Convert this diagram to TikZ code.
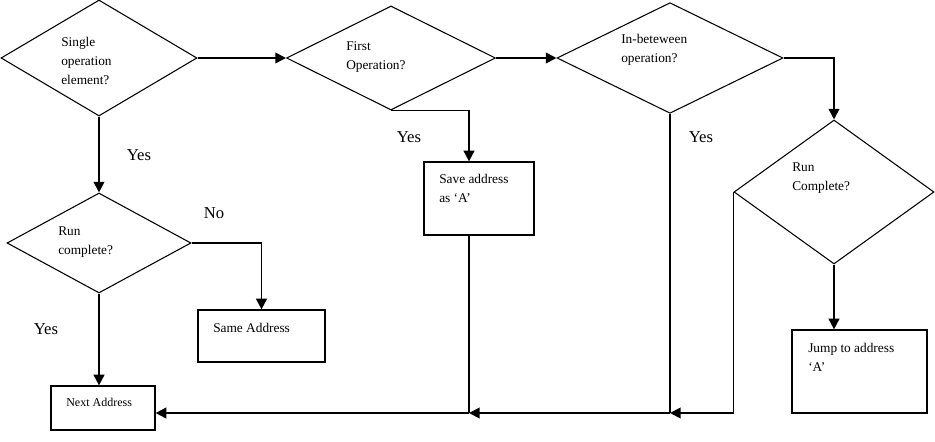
\documentclass[tikz,border=0pt]{standalone}
\usepackage{fontspec}
\setmainfont{Liberation Serif}
\usetikzlibrary{shapes.geometric,arrows.meta,positioning}
\tikzset{
  decision/.style={draw,diamond,inner sep=0pt,line width=0.8pt},
  process/.style={draw,rectangle,inner sep=0pt,line width=0.9pt},
  txt/.style={anchor=north west,inner sep=0pt,align=left,font=\fontsize{10}{14.25}\selectfont},
  answer/.style={inner sep=0pt,font=\fontsize{12.5}{14}\selectfont},
  arr/.style={-{Triangle[length=8pt,width=8pt]},line width=1.4pt},
  line/.style={line width=0.9pt}
}
\begin{document}
\begin{tikzpicture}[x=0.75pt,y=-0.75pt]
  \useasboundingbox (0,0) rectangle (935,442);

  % Decisions
  \node (d1) [decision,minimum width=147pt,minimum height=87pt] at (99,58) {};
  \node (d2) [decision,minimum width=156.75pt,minimum height=78pt] at (391,58) {};
  \node (d3) [decision,minimum width=169.5pt,minimum height=83pt] at (670,58) {};
  \node (d4) [decision,minimum width=150pt,minimum height=108pt] at (834,192) {};
  \node (d5) [decision,minimum width=138pt,minimum height=75pt] at (99,243) {};

  % Boxes
  \node (save) [process,minimum width=82.5pt,minimum height=54.75pt] at (479,198.5) {};
  \node (same) [process,minimum width=95.25pt,minimum height=39pt] at (261.5,336) {};
  \node (jump) [process,minimum width=101.25pt,minimum height=62.25pt] at (859.5,371.5) {};
  \node (next) [process,minimum width=78pt,minimum height=33pt] at (103,408) {};

  % Texts
  \node (d1t) [txt] at (61,37) {Single\\operation\\element?};
  \node (d2t) [txt] at (346,41) {First\\Operation?};
  \node (d3t) [txt] at (621,34) {In-beteween\\operation?};
  \node (d4t) [txt] at (792,163) {Run\\Complete?};
  \node (d5t) [txt] at (58,227) {Run\\complete?};
  \node (savet) [txt] at (439,174) {Save address\\as `A'};
  \node (samet) [txt] at (213,323) {Same Address};
  \node (jumpt) [txt] at (808,343) {Jump to address\\`A'};
  \node (nextt) [txt,font=\fontsize{9}{11}\selectfont] at (66,398) {Next Address};

  % Answers
  \node (yes1) [answer] at (139,155) {Yes};
  \node (no1) [answer] at (214,213) {No};
  \node (yes2) [answer] at (46,329) {Yes};
  \node (yes3) [answer] at (409,137) {Yes};
  \node (yes4) [answer] at (701,137) {Yes};

  % Bottom line
  \coordinate (j1) at (469,413);
  \coordinate (j2) at (670,413);

  \draw[arr] (d1.east) -- (d2.west);
  \draw[arr] (d2.east) -- (d3.west);
  \draw[arr] (d3.east) -| (d4.north);
  \draw[arr] (d1.south) -- (d5.north);
  \draw[arr] (d5.east) -| (same.north);
  \draw[arr] (d5.south) -- (d5.south |- next.north);
  \draw[arr] (d2.south) -| ([xshift=-7.5pt]save.north);
  \draw[arr] (d4.south) -- (d4.south |- jump.north);
  \draw[line] ([xshift=-7.5pt]save.south) -- (j1);
  \draw[line] (d3.south) -- (j2);
  \draw[arr] (d4.west) |- (j2);
  \draw[arr] (j2) -- (j1);
  \draw[arr] (j1) -- (j1 -| next.east);
\end{tikzpicture}
\end{document}
